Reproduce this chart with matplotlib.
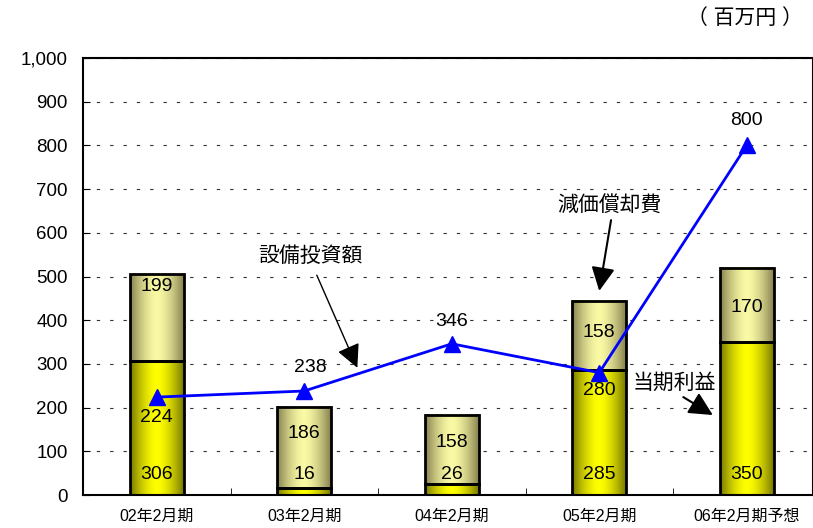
import numpy as np
import matplotlib
matplotlib.use("Agg")
import matplotlib.pyplot as plt
from matplotlib.patches import Rectangle

plt.rcParams['font.family'] = ['Liberation Sans', 'Noto Sans CJK JP', 'DejaVu Sans']

# data
categories = ["02年2月期", "03年2月期", "04年2月期", "05年2月期", "06年2月期予想"]
profit = [306, 16, 26, 285, 350]          # 当期利益
depreciation = [199, 186, 158, 158, 170]  # 減価償却費
capex = [224, 238, 346, 280, 800]         # 設備投資額

# label placement (data y)
profit_label_y = [48, 48, 48, 48, 48]
dep_label_y = [476, 140, 119, 371, 428]
capex_label_y = [178, 291, 396, 240, 858]

BAR_W = 0.366


def gradient_bar(ax, x, y0, y1, center, edge):
    u = np.linspace(0, 1, 64)
    t = np.abs(2 * u - 1) ** 1.6
    c = np.array(center)[None, :] + (np.array(edge) - np.array(center))[None, :] * t[:, None]
    img = np.repeat(c[None, :, :], 2, axis=0) / 255.0
    ax.imshow(img, extent=[x - BAR_W / 2, x + BAR_W / 2, y0, y1],
              aspect='auto', interpolation='bicubic', zorder=2)
    ax.add_patch(Rectangle((x - BAR_W / 2, y0), BAR_W, y1 - y0, fill=False,
                           edgecolor='black', lw=2, zorder=3))


fig = plt.figure(figsize=(8.13, 5.28), dpi=100)
ax = fig.add_axes([83 / 813, 33 / 528, 730 / 813, 437 / 528])

x = np.arange(len(categories))
for i in x:
    gradient_bar(ax, i, 0, profit[i], (255, 255, 0), (120, 120, 0))
    gradient_bar(ax, i, profit[i], profit[i] + depreciation[i], (250, 250, 165), (135, 130, 80))
    ax.text(i, profit_label_y[i], str(profit[i]), ha='center', va='center', fontsize=14, zorder=6)
    ax.text(i, dep_label_y[i], str(depreciation[i]), ha='center', va='center', fontsize=14, zorder=6)

ax.plot(x, capex, color='#0000ff', lw=2, marker='^', markersize=11, zorder=5)
capex_label_x = [0, 0.04, 0, 0, 0]
for i in x:
    ax.text(i + capex_label_x[i], capex_label_y[i], str(capex[i]), ha='center', va='center',
            fontsize=14, zorder=6)

arrow = dict(arrowstyle='-|>', mutation_scale=36, lw=1, color='black', shrinkA=0, shrinkB=0)
ax.annotate("", xy=(1.36, 291), xytext=(1.085, 503), arrowprops=arrow, zorder=7)
ax.text(1.04, 547, "設備投資額", ha='center', va='center', fontsize=15)
ax.annotate("", xy=(3.0, 467), xytext=(3.08, 629), arrowprops=dict(arrow, lw=1.5), zorder=7)
ax.text(3.07, 664, "減価償却費", ha='center', va='center', fontsize=15)
ax.annotate("", xy=(3.77, 183), xytext=(3.57, 224), arrowprops=dict(arrow, lw=1.5), zorder=7)
ax.text(3.51, 256, "当期利益", ha='center', va='center', fontsize=15, zorder=4)

ax.set_xlim(-0.5, -0.5 + 730 / 147.5)
ax.set_ylim(0, 1000)
ax.set_yticks(np.arange(0, 1001, 100))
ax.set_yticklabels([f"{v:,}" for v in range(0, 1001, 100)], fontsize=13.5)
ax.set_xticks(x)
ax.set_xticklabels(categories, fontsize=11.5)
ax.set_xticks(np.arange(0.5, 4.5, 1), minor=True)
ax.tick_params(axis='x', which='major', length=0, pad=10)
ax.tick_params(axis='x', which='minor', direction='in', length=5)
ax.tick_params(axis='y', direction='in', length=5, pad=11)
ax.grid(axis='y', color='#333333', linestyle=(0, (3, 9)), lw=0.8, zorder=1)
for s in ['left', 'bottom', 'top', 'right']:
    ax.spines[s].set_linewidth(1.5)

fig.text(745 / 813, 1 - 18 / 528, "（ 百万円 ）", ha='center', va='center', fontsize=15)

fig.savefig("out.png", dpi=100)
